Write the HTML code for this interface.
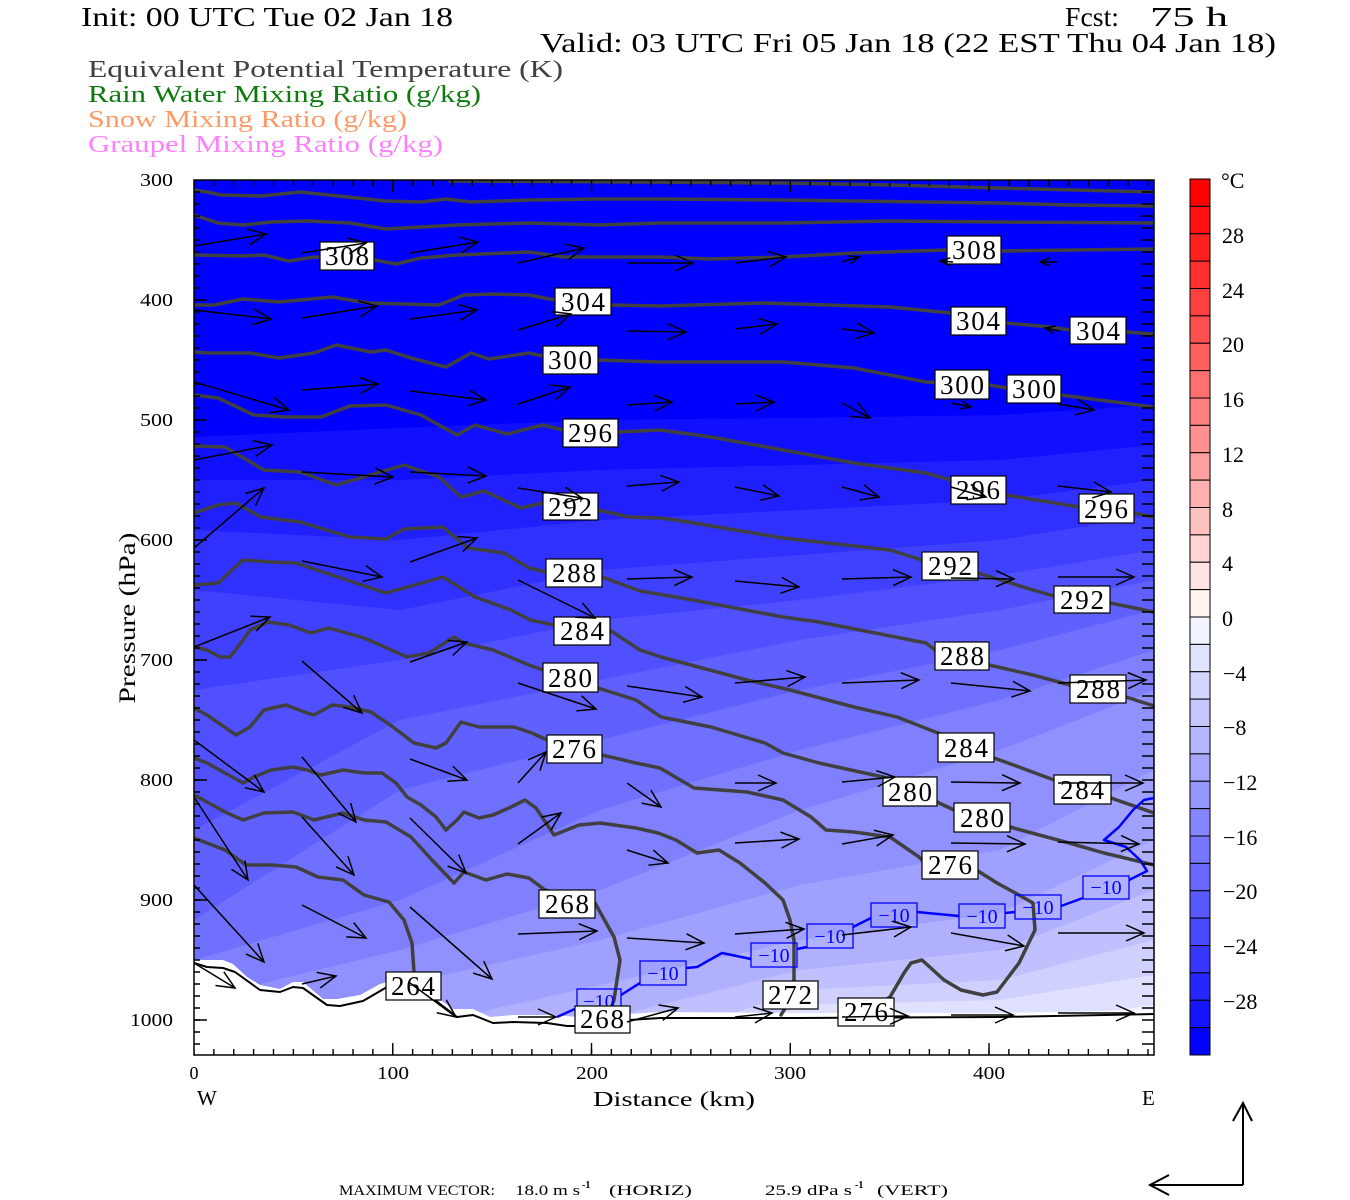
<!DOCTYPE html>
<html><head><meta charset="utf-8"><style>
html,body{margin:0;padding:0;background:#fff;}
svg{display:block;}
text{font-family:"Liberation Serif",serif;}
</style></head><body>
<svg width="1350" height="1200" viewBox="0 0 1350 1200" xmlns="http://www.w3.org/2000/svg">
<defs>
<clipPath id="pc"><rect x="194" y="180" width="960" height="875"/></clipPath>
<marker id="a" markerUnits="userSpaceOnUse" markerWidth="40" markerHeight="40" refX="20" refY="20" orient="auto" overflow="visible"><path d="M2,12 L20,20 L2,28" fill="none" stroke="#000" stroke-width="1.5"/></marker>
<marker id="s" markerUnits="userSpaceOnUse" markerWidth="40" markerHeight="40" refX="20" refY="20" orient="auto" overflow="visible"><path d="M10,16 L20,20 L10,24" fill="none" stroke="#000" stroke-width="1.5"/></marker>
</defs>

<!-- titles -->
<text x="81" y="26" font-size="27" textLength="372" lengthAdjust="spacingAndGlyphs">Init: 00 UTC Tue 02 Jan 18</text>
<text x="1065" y="26" font-size="27" textLength="54" lengthAdjust="spacingAndGlyphs">Fcst:</text>
<text x="1150" y="26" font-size="27" textLength="78" lengthAdjust="spacingAndGlyphs">75 h</text>
<text x="540" y="52" font-size="27" textLength="736" lengthAdjust="spacingAndGlyphs">Valid: 03 UTC Fri 05 Jan 18 (22 EST Thu 04 Jan 18)</text>
<text x="88" y="77" font-size="24" fill="#404040" textLength="475" lengthAdjust="spacingAndGlyphs">Equivalent Potential Temperature (K)</text>
<text x="88" y="102" font-size="24" fill="#0f7a0f" textLength="393" lengthAdjust="spacingAndGlyphs">Rain Water Mixing Ratio (g/kg)</text>
<text x="88" y="127" font-size="24" fill="#ff9966" textLength="319" lengthAdjust="spacingAndGlyphs">Snow Mixing Ratio (g/kg)</text>
<text x="88" y="152" font-size="24" fill="#ff80ff" textLength="355" lengthAdjust="spacingAndGlyphs">Graupel Mixing Ratio (g/kg)</text>

<!-- temperature fill -->
<g clip-path="url(#pc)">
<rect x="194" y="180" width="960" height="875" fill="#0000ff"/>
<polygon fill="#1010ff" points="194,437 400,428 600,420 800,418 1000,415 1154,405 1154,1060 194,1060"/>
<polygon fill="#2020ff" points="194,480 400,480 600,470 800,465 1000,460 1154,445 1154,1060 194,1060"/>
<polygon fill="#3030ff" points="194,530 400,540 600,520 800,510 1000,500 1154,480 1154,1060 194,1060"/>
<polygon fill="#4040ff" points="194,590 400,610 600,570 800,555 1000,540 1154,515 1154,1060 194,1060"/>
<polygon fill="#5050ff" points="194,690 400,660 600,620 800,600 1000,575 1154,550 1154,1060 194,1060"/>
<polygon fill="#6060ff" points="194,830 400,720 600,680 800,640 1000,610 1154,580 1154,1060 194,1060"/>
<polygon fill="#7070ff" points="194,920 400,790 600,740 800,690 1000,650 1154,610 1154,1060 194,1060"/>
<polygon fill="#8080ff" points="194,960 400,900 600,810 800,750 1000,700 1154,650 1154,1060 194,1060"/>
<polygon fill="#9090ff" points="194,1000 400,950 600,890 800,810 1000,750 1154,690 1154,1060 194,1060"/>
<polygon fill="#a0a0ff" points="194,1060 400,985 600,940 800,885 1000,850 1154,770 1154,1060 194,1060"/>
<polygon fill="#b0b0ff" points="194,1100 400,1030 600,985 800,940 1000,913 1154,840 1154,1100"/>
<polygon fill="#c0c0ff" points="194,1100 400,1070 600,1020 800,970 1000,950 1154,890 1154,1100"/>
<polygon fill="#d0d0ff" points="194,1100 400,1100 600,1060 800,990 1000,980 1154,940 1154,1100"/>
<polygon fill="#e0e0ff" points="194,1100 600,1100 800,1005 1000,1000 1154,975 1154,1100"/>
<polygon fill="#f0f0ff" points="194,1100 600,1100 800,1030 1000,1025 1154,1005 1154,1100"/>

<!-- terrain -->
<polygon fill="#fff" points="194,960 213,960 223,960 233,964 247,977 260,985 280,989 293,982 303,982 323,999 337,999 360,995 380,984 393,980 413,984 433,995 453,1009 473,1009 490,1017 513,1015 547,1015 580,1017 660,1012 800,1013 1000,1013 1154,1010 1154,1060 194,1060"/>

<!-- theta-e contours -->
<g fill="none" stroke="#404040" stroke-width="3.5" stroke-linejoin="round" stroke-linecap="round">
<polyline points="450,181 640,182 783,183 890,185 997,188 1154,192"/>
<polyline points="194,190 207,192 221,195 261,196 300,192 329,195 386,201 421,202 446,199 471,202 529,200 600,199 660,199 783,200 926,202 997,203 1069,205 1154,206"/>
<polyline points="194,215 218,223 243,225 271,222 307,221 350,223 386,229 421,227 457,225 529,223 600,225 660,223 783,223 890,221 997,222 1154,223"/>
<polyline points="194,255 243,256 264,255 289,261 314,257 374,260 396,264 421,258 457,255 529,252 564,257 660,257 711,259 783,257 854,253 947,250 1001,251 1154,249"/>
<polyline points="194,305 214,305 243,299 279,302 332,297 368,303 439,305 464,295 493,294 529,295 555,300 611,305 660,306 765,303 890,307 951,313 1006,323 1051,327 1070,330 1126,332 1154,334"/>
<polyline points="194,352 207,353 250,353 279,358 314,353 336,345 371,352 386,350 411,358 446,367 471,353 489,359 529,353 543,356 598,360 660,362 783,362 854,368 926,382 989,385 1007,388 1061,395 1154,407"/>
<polyline points="194,395 218,398 254,415 286,417 321,417 350,406 386,405 421,415 457,435 475,425 507,434 543,425 563,430 618,432 660,430 711,437 783,450 854,463 926,473 951,480 1006,495 1079,507 1134,513 1154,517"/>
<polyline points="194,446 225,447 264,470 300,472 336,485 364,477 404,465 439,477 461,497 484,491 521,508 543,503 598,510 629,517 660,518 676,520 783,538 890,550 922,560 978,573 1033,590 1054,596 1110,603 1154,612"/>
<polyline points="194,513 218,505 236,503 261,517 300,522 350,537 386,539 404,529 443,527 468,548 504,553 529,568 546,572 602,577 640,591 693,600 783,617 819,622 926,643 935,650 989,665 1033,675 1070,685 1126,697 1154,706"/>
<polyline points="194,585 218,583 243,560 271,562 296,563 332,575 386,593 443,577 475,597 511,610 530,620 554,625 611,631 640,650 661,657 747,680 790,690 854,707 897,717 938,733 994,758 1019,767 1054,780 1111,798 1154,813"/>
<polyline points="194,647 207,650 220,657 230,657 243,640 250,630 268,622 289,625 311,633 329,628 364,638 407,657 429,653 454,637 464,643 493,650 529,665 543,670 598,688 636,700 661,717 711,727 765,743 783,753 819,763 883,777 937,802 954,810 1010,827 1069,843 1104,853 1154,865"/>
<polyline points="194,708 207,715 236,735 250,727 264,710 286,705 307,713 314,715 332,705 350,707 371,712 393,727 414,743 436,748 446,743 461,722 479,727 514,727 532,733 547,740 602,755 636,763 660,768 694,788 747,792 783,800 811,817 826,830 854,832 890,837 919,857 922,860 978,871 997,883 1019,895 1033,903 1035,930 1019,963 997,992 983,995 961,990 944,980 933,970 922,960 911,963 904,973 890,997 870,1010"/>
<polyline points="194,758 207,763 225,773 243,783 254,777 271,770 293,767 307,770 321,775 343,770 364,773 382,773 396,783 407,797 421,805 436,817 446,830 457,820 464,812 479,818 493,815 511,807 525,800 536,808 554,835 579,825 600,823 636,828 658,833 676,840 697,853 719,850 740,863 765,883 783,900 790,920 794,940 794,980 790,1000 781,1015"/>
<polyline points="194,795 207,802 225,812 243,820 264,813 293,812 314,820 343,813 364,820 386,822 411,837 432,860 454,883 464,872 486,880 507,874 529,878 545,890 595,903 614,937 620,960 614,1000 611,1008"/>
<polyline points="194,838 207,843 225,850 246,865 271,865 296,867 318,877 343,880 364,895 389,902 404,920 412,943 414,972"/>
</g>

<!-- terrain line -->
<polyline fill="none" stroke="#000" stroke-width="2" stroke-linejoin="round" points="194,963 207,967 223,968 235,972 260,990 280,992 293,987 303,988 327,1005 340,1006 363,1001 387,987 400,985 415,990 435,1000 457,1017 473,1015 493,1023 513,1022 547,1023 567,1026 597,1026 630,1020 660,1018 800,1018 1000,1017 1154,1014"/>

<!-- -10 isotherm -->
<g fill="none" stroke="#0000ff" stroke-width="2.5" stroke-linejoin="round">
<polyline points="557,1017 577,1008"/>
<polyline points="621,995 640,983"/>
<polyline points="686,968 697,967 722,953 751,959"/>
<polyline points="797,949 807,947"/>
<polyline points="853,927 871,918"/>
<polyline points="917,912 959,916"/>
<polyline points="1005,913 1015,912"/>
<polyline points="1061,906 1083,898"/>
<polyline points="1129,880 1147,871 1140,860 1126,847 1104,840 1119,827 1133,810 1144,800 1154,798"/>
</g>
<g fill="none" stroke="#0000ff" stroke-width="1.3">
<rect x="577" y="989" width="44" height="24"/>
<rect x="640" y="961" width="46" height="24"/>
<rect x="751" y="943" width="46" height="24"/>
<rect x="807" y="924" width="46" height="24"/>
<rect x="871" y="903" width="46" height="24"/>
<rect x="959" y="904" width="46" height="24"/>
<rect x="1015" y="895" width="46" height="24"/>
<rect x="1083" y="876" width="46" height="23"/>
</g>
<g fill="#0000ff" font-size="20" text-anchor="middle">
<text x="599" y="1008">−10</text>
<text x="663" y="980">−10</text>
<text x="774" y="962">−10</text>
<text x="830" y="943">−10</text>
<text x="894" y="922">−10</text>
<text x="982" y="923">−10</text>
<text x="1038" y="914">−10</text>
<text x="1106" y="894">−10</text>
</g>

<!-- theta-e labels -->
<g fill="#fff" stroke="#000" stroke-width="1.2">
<rect x="320" y="242" width="54" height="28"/><rect x="947" y="236" width="54" height="28"/>
<rect x="555" y="288" width="56" height="27"/><rect x="951" y="307" width="55" height="28"/><rect x="1070" y="317" width="56" height="27"/>
<rect x="543" y="346" width="55" height="28"/><rect x="935" y="370" width="54" height="29"/><rect x="1007" y="375" width="54" height="28"/>
<rect x="563" y="419" width="55" height="28"/><rect x="951" y="476" width="55" height="28"/><rect x="1079" y="494" width="55" height="29"/>
<rect x="543" y="493" width="55" height="27"/><rect x="922" y="552" width="56" height="28"/><rect x="1054" y="586" width="56" height="27"/>
<rect x="546" y="559" width="56" height="28"/><rect x="935" y="642" width="54" height="28"/><rect x="1070" y="675" width="56" height="28"/>
<rect x="554" y="617" width="56" height="28"/><rect x="938" y="733" width="56" height="29"/><rect x="1054" y="775" width="57" height="29"/>
<rect x="543" y="663" width="55" height="29"/><rect x="883" y="777" width="54" height="29"/><rect x="954" y="803" width="56" height="29"/>
<rect x="547" y="735" width="55" height="28"/><rect x="922" y="851" width="56" height="28"/><rect x="838" y="998" width="56" height="28"/>
<rect x="763" y="981" width="55" height="28"/>
<rect x="539" y="890" width="56" height="28"/><rect x="575" y="1006" width="55" height="27"/>
<rect x="386" y="972" width="55" height="28"/>
</g>
<g fill="#000" font-size="27" text-anchor="middle" lengthAdjust="spacingAndGlyphs">
<text x="347" y="265" textLength="44">308</text><text x="974" y="259" textLength="44">308</text>
<text x="583" y="311" textLength="44">304</text><text x="978" y="330" textLength="44">304</text><text x="1098" y="340" textLength="44">304</text>
<text x="570" y="369" textLength="44">300</text><text x="962" y="394" textLength="44">300</text><text x="1034" y="398" textLength="44">300</text>
<text x="590" y="442" textLength="44">296</text><text x="978" y="499" textLength="44">296</text><text x="1106" y="518" textLength="44">296</text>
<text x="570" y="516" textLength="44">292</text><text x="950" y="575" textLength="44">292</text><text x="1082" y="609" textLength="44">292</text>
<text x="574" y="582" textLength="44">288</text><text x="962" y="665" textLength="44">288</text><text x="1098" y="698" textLength="44">288</text>
<text x="582" y="640" textLength="44">284</text><text x="966" y="757" textLength="44">284</text><text x="1082" y="799" textLength="44">284</text>
<text x="570" y="687" textLength="44">280</text><text x="910" y="801" textLength="44">280</text><text x="982" y="827" textLength="44">280</text>
<text x="574" y="758" textLength="44">276</text><text x="950" y="874" textLength="44">276</text><text x="866" y="1021" textLength="44">276</text>
<text x="790" y="1004" textLength="44">272</text>
<text x="567" y="913" textLength="44">268</text><text x="602" y="1028" textLength="44">268</text>
<text x="413" y="995" textLength="44">264</text>
</g>

<!-- wind vectors -->
<g stroke="#000" stroke-width="1.5" fill="none" marker-end="url(#a)">
<path d="M194 246L266 234"/><path d="M302 253L366 243"/><path d="M410 253L478 242"/><path d="M518 263L584 248"/><path d="M627 263L693 263"/><path d="M735 263L786 257"/>
<path d="M194 310L271 319"/><path d="M302 318L377 306"/><path d="M410 319L477 310"/><path d="M518 330L571 314"/><path d="M627 331L686 332"/><path d="M735 329L777 324"/><path d="M842 329L874 333"/>
<path d="M194 382L289 410"/><path d="M302 390L378 384"/><path d="M410 391L486 400"/><path d="M518 404L570 387"/><path d="M627 405L672 402"/><path d="M735 404L774 402"/><path d="M842 403L870 418"/><path d="M1058 404L1094 410"/>
<path d="M194 460L272 445"/><path d="M302 472L393 477"/><path d="M410 472L486 476"/><path d="M518 488L582 498"/><path d="M627 486L679 482"/><path d="M735 487L779 496"/><path d="M842 487L879 497"/><path d="M951 487L986 497"/><path d="M1058 486L1111 492"/>
<path d="M194 548L264 488"/><path d="M302 561L382 577"/><path d="M410 562L477 538"/><path d="M518 580L595 618"/><path d="M627 579L692 577"/><path d="M735 581L799 587"/><path d="M842 579L911 577"/><path d="M951 578L1014 579"/><path d="M1058 577L1134 577"/>
<path d="M194 647L270 617"/><path d="M302 661L362 713"/><path d="M410 662L467 642"/><path d="M518 683L596 709"/><path d="M627 686L702 697"/><path d="M735 683L805 677"/><path d="M842 683L919 680"/><path d="M951 683L1030 691"/><path d="M1058 683L1146 680"/>
<path d="M194 740L264 792"/><path d="M302 757L356 822"/><path d="M410 759L467 780"/><path d="M518 783L546 752"/><path d="M627 783L661 807"/><path d="M735 783L776 783"/><path d="M842 782L895 777"/><path d="M951 782L1020 783"/><path d="M1058 783L1143 783"/>
<path d="M194 797L248 880"/><path d="M302 817L354 875"/><path d="M410 818L466 873"/><path d="M518 844L561 813"/><path d="M627 850L668 863"/><path d="M735 843L799 839"/><path d="M842 844L893 835"/><path d="M951 843L1025 844"/><path d="M1058 842L1139 844"/>
<path d="M194 885L264 962"/><path d="M302 905L366 938"/><path d="M410 907L492 979"/><path d="M518 934L597 931"/><path d="M627 938L704 943"/><path d="M735 934L804 929"/><path d="M842 935L911 927"/><path d="M951 933L1024 946"/><path d="M1058 933L1144 933"/>
<path d="M194 963L235 988"/><path d="M302 984L336 976"/><path d="M410 983L456 1017"/><path d="M518 1017L556 1017"/><path d="M627 1022L678 1008"/><path d="M735 1017L772 1013"/><path d="M842 1017L908 1016"/><path d="M951 1015L1013 1015"/><path d="M1058 1013L1134 1013"/>
</g>
<g stroke="#000" stroke-width="1.5" fill="none" marker-end="url(#s)">
<path d="M842 262L859 257"/><path d="M953 262L940 261"/><path d="M1058 262L1040 262"/><path d="M1060 331L1045 328"/><path d="M951 403L971 407"/>
</g>
</g>

<!-- axes frame and ticks -->
<rect x="194" y="180" width="960" height="875" fill="none" stroke="#000" stroke-width="1.5"/>
<g stroke="#000" fill="none">
<line x1="197" y1="180" x2="197" y2="1055" stroke-width="6" stroke-dasharray="1.4 10.6" stroke-dashoffset="0.7"/>
<line x1="1148" y1="180" x2="1148" y2="1055" stroke-width="12" stroke-dasharray="1.4 10.6" stroke-dashoffset="0.7"/>
<line x1="194" y1="183" x2="1154" y2="183" stroke-width="6" stroke-dasharray="1.4 18.475" stroke-dashoffset="0.7"/>
<line x1="194" y1="1052" x2="1154" y2="1052" stroke-width="6" stroke-dasharray="1.4 18.475" stroke-dashoffset="0.7"/>
<path stroke-width="1.4" d="M194 300h13M194 420h13M194 540h13M194 660h13M194 780h13M194 900h13M194 1020h13M392.75 180v12M591.5 180v12M790.25 180v12M989 180v12M392.75 1055v-12M591.5 1055v-12M790.25 1055v-12M989 1055v-12"/>
</g>

<!-- axis labels -->
<g font-size="18" text-anchor="end">
<text x="173" y="186" textLength="33" lengthAdjust="spacingAndGlyphs">300</text>
<text x="173" y="306" textLength="33" lengthAdjust="spacingAndGlyphs">400</text>
<text x="173" y="426" textLength="33" lengthAdjust="spacingAndGlyphs">500</text>
<text x="173" y="546" textLength="33" lengthAdjust="spacingAndGlyphs">600</text>
<text x="173" y="666" textLength="33" lengthAdjust="spacingAndGlyphs">700</text>
<text x="173" y="786" textLength="33" lengthAdjust="spacingAndGlyphs">800</text>
<text x="173" y="906" textLength="33" lengthAdjust="spacingAndGlyphs">900</text>
<text x="173" y="1026" textLength="43" lengthAdjust="spacingAndGlyphs">1000</text>
</g>
<g font-size="18" text-anchor="middle">
<text x="194" y="1079">0</text>
<text x="393" y="1079" textLength="32" lengthAdjust="spacingAndGlyphs">100</text>
<text x="592" y="1079" textLength="32" lengthAdjust="spacingAndGlyphs">200</text>
<text x="790" y="1079" textLength="32" lengthAdjust="spacingAndGlyphs">300</text>
<text x="989" y="1079" textLength="32" lengthAdjust="spacingAndGlyphs">400</text>
</g>
<text x="593" y="1106" font-size="21" textLength="162" lengthAdjust="spacingAndGlyphs">Distance (km)</text>
<text x="197" y="1105" font-size="21">W</text>
<text x="1142" y="1105" font-size="21">E</text>
<text transform="translate(135,618) rotate(-90)" x="0" y="0" font-size="23" text-anchor="middle" textLength="171" lengthAdjust="spacingAndGlyphs">Pressure (hPa)</text>

<!-- colorbar -->
<g stroke="#000" stroke-width="1">
<rect x="1190" y="179" width="20" height="27.375" fill="#ff0000"/>
<rect x="1190" y="206.375" width="20" height="27.375" fill="#ff1010"/>
<rect x="1190" y="233.75" width="20" height="27.375" fill="#ff2020"/>
<rect x="1190" y="261.125" width="20" height="27.375" fill="#ff3030"/>
<rect x="1190" y="288.5" width="20" height="27.375" fill="#ff4040"/>
<rect x="1190" y="315.875" width="20" height="27.375" fill="#ff5050"/>
<rect x="1190" y="343.25" width="20" height="27.375" fill="#ff6060"/>
<rect x="1190" y="370.625" width="20" height="27.375" fill="#ff7070"/>
<rect x="1190" y="398" width="20" height="27.375" fill="#ff8080"/>
<rect x="1190" y="425.375" width="20" height="27.375" fill="#ff9090"/>
<rect x="1190" y="452.75" width="20" height="27.375" fill="#ffa0a0"/>
<rect x="1190" y="480.125" width="20" height="27.375" fill="#ffb0b0"/>
<rect x="1190" y="507.5" width="20" height="27.375" fill="#ffc0c0"/>
<rect x="1190" y="534.875" width="20" height="27.375" fill="#ffd4d4"/>
<rect x="1190" y="562.25" width="20" height="27.375" fill="#ffe4e4"/>
<rect x="1190" y="589.625" width="20" height="27.375" fill="#fff4f2"/>
<rect x="1190" y="617" width="20" height="27.375" fill="#f2f4ff"/>
<rect x="1190" y="644.375" width="20" height="27.375" fill="#e2e4ff"/>
<rect x="1190" y="671.75" width="20" height="27.375" fill="#d4d6ff"/>
<rect x="1190" y="699.125" width="20" height="27.375" fill="#c6c6ff"/>
<rect x="1190" y="726.5" width="20" height="27.375" fill="#b6b6ff"/>
<rect x="1190" y="753.875" width="20" height="27.375" fill="#a6a6ff"/>
<rect x="1190" y="781.25" width="20" height="27.375" fill="#9696ff"/>
<rect x="1190" y="808.625" width="20" height="27.375" fill="#8686ff"/>
<rect x="1190" y="836" width="20" height="27.375" fill="#7676ff"/>
<rect x="1190" y="863.375" width="20" height="27.375" fill="#6868ff"/>
<rect x="1190" y="890.75" width="20" height="27.375" fill="#5858ff"/>
<rect x="1190" y="918.125" width="20" height="27.375" fill="#4848ff"/>
<rect x="1190" y="945.5" width="20" height="27.375" fill="#3636ff"/>
<rect x="1190" y="972.875" width="20" height="27.375" fill="#2626ff"/>
<rect x="1190" y="1000.25" width="20" height="27.375" fill="#1414ff"/>
<rect x="1190" y="1027.625" width="20" height="27.375" fill="#0000ff"/>
</g>
<g font-size="22">
<text x="1221" y="188">°C</text>
<text x="1222" y="243">28</text>
<text x="1222" y="298">24</text>
<text x="1222" y="352">20</text>
<text x="1222" y="407">16</text>
<text x="1222" y="462">12</text>
<text x="1222" y="517">8</text>
<text x="1222" y="571">4</text>
<text x="1222" y="626">0</text>
<text x="1223" y="681">−4</text>
<text x="1223" y="735">−8</text>
<text x="1223" y="790">−12</text>
<text x="1223" y="845">−16</text>
<text x="1223" y="899">−20</text>
<text x="1223" y="954">−24</text>
<text x="1223" y="1009">−28</text>
</g>

<!-- bottom legend -->
<g font-size="15">
<text x="339" y="1195" textLength="156" lengthAdjust="spacingAndGlyphs">MAXIMUM VECTOR:</text>
<text x="515" y="1195" textLength="65" lengthAdjust="spacingAndGlyphs">18.0 m s</text>
<text x="582" y="1188" font-size="10" font-weight="bold">-1</text>
<text x="609" y="1195" textLength="83" lengthAdjust="spacingAndGlyphs">(HORIZ)</text>
<text x="765" y="1195" textLength="87" lengthAdjust="spacingAndGlyphs">25.9 dPa s</text>
<text x="855" y="1188" font-size="10" font-weight="bold">-1</text>
<text x="877" y="1195" textLength="71" lengthAdjust="spacingAndGlyphs">(VERT)</text>
</g>
<g stroke="#000" stroke-width="2" fill="none">
<path d="M1243 1185V1103M1233 1121L1243 1103L1252 1121"/>
<path d="M1243 1185H1150M1169 1175L1150 1185L1169 1195"/>
</g>
</svg>
</body></html>
